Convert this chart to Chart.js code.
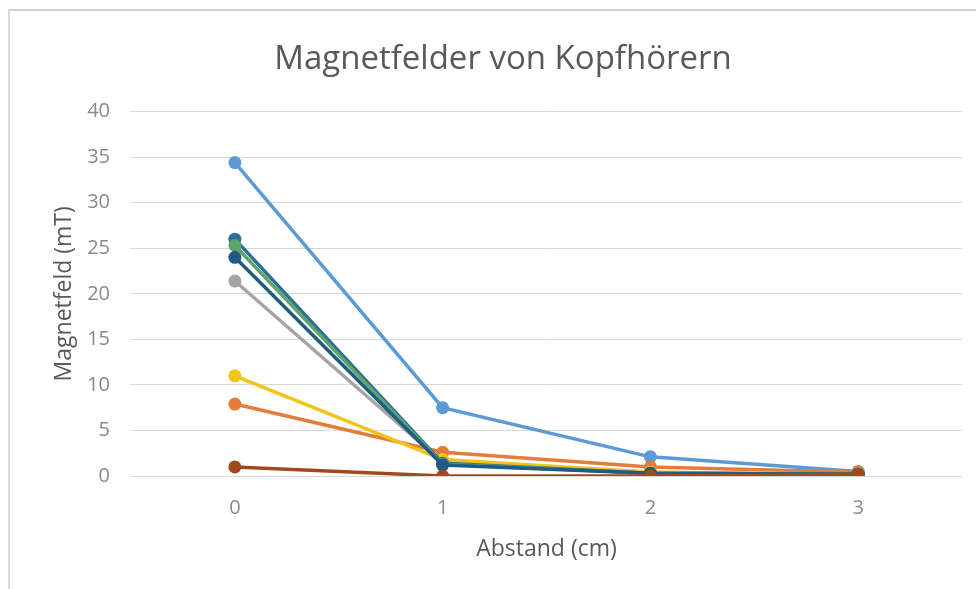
<!DOCTYPE html>
<html>
<head>
<meta charset="utf-8">
<script src="https://cdn.jsdelivr.net/npm/chart.js@4.4.1/dist/chart.umd.min.js"></script>
<style>
  html,body{margin:0;padding:0;background:#fff;overflow:hidden;}
  #frame{position:absolute;left:8px;top:9px;width:990px;height:600px;border-top:2px solid #d0d0d0;border-left:2px solid #dadada;}
  #wrap{position:absolute;left:0;top:0;width:976px;height:589px;}
</style>
</head>
<body>
<div id="frame"></div>
<div id="wrap"><canvas id="c"></canvas></div>
<script>
// Abstand in cm (Kategorien)
var abstand = ['0', '1', '2', '3'];
// Magnetfeld in mT je Kopfhörer
var kh1 = [34.4, 7.5, 2.1, 0.5];
var kh2 = [7.9, 2.6, 1.0, 0.4];
var kh3 = [21.4, 1.5, 0.4, 0.2];
var kh4 = [11.0, 1.8, 0.4, 0.2];
var kh5 = [26.0, 1.4, 0.3, 0.2];
var kh6 = [25.3, 1.3, 0.3, 0.2];
var kh7 = [24.0, 1.2, 0.3, 0.2];
var kh8 = [1.0, 0.0, 0.0, 0.2];
var yTicks = [0, 5, 10, 15, 20, 25, 30, 35, 40];

var series = [kh1, kh2, kh3, kh4, kh5, kh6, kh7, kh8];
var colors = ['#5B9BD5', '#E47C3A', '#A5A5A5', '#F2C318', '#2E6F97', '#5CA66A', '#1F5B85', '#A04A1C'];

var datasets = series.map(function(d, i) {
  return {
    label: 'Kopfhörer ' + (i + 1), data: d,
    borderColor: colors[i], backgroundColor: colors[i],
    borderWidth: 3.5, pointRadius: 6.5, pointHoverRadius: 6.5, pointBorderWidth: 0,
    tension: 0, order: series.length - i
  };
});

var font = '"Open Sans", "Liberation Sans", sans-serif';

new Chart(document.getElementById('c'), {
  type: 'line',
  data: { labels: abstand, datasets: datasets },
  options: {
    responsive: true, maintainAspectRatio: false, animation: false,
    layout: { padding: { left: 44, right: 14, top: 40, bottom: 0 } },
    plugins: {
      legend: { display: false },
      tooltip: { enabled: false },
      title: {
        display: true, text: 'Magnetfelder von Kopfhörern', color: '#595959',
        font: { family: font, size: 33, weight: 'normal' }, padding: { top: 0, bottom: 32 }
      }
    },
    scales: {
      x: {
        type: 'category', offset: true,
        grid: { display: false, drawTicks: false },
        border: { color: '#d9d9d9' },
        ticks: { color: '#8a8a8a', padding: 20, font: { family: font, size: 20 } },
        title: { display: true, text: 'Abstand (cm)', color: '#595959', font: { family: font, size: 23 }, padding: { top: 0, bottom: 26 } },
        afterFit: function(s) { s.height = 113; }
      },
      y: {
        min: 0, max: 40,
        afterBuildTicks: function(s) { s.ticks = yTicks.map(function(v) { return { value: v }; }); },
        grid: { color: '#d9d9d9', drawTicks: false },
        border: { display: false },
        ticks: { color: '#8a8a8a', padding: 21, font: { family: font, size: 20 } },
        title: { display: true, text: 'Magnetfeld (mT)', color: '#595959', font: { family: font, size: 23 }, padding: { top: 7, bottom: 0 } },
        afterFit: function(s) { s.width = 87; }
      }
    }
  }
});
</script>
</body>
</html>
